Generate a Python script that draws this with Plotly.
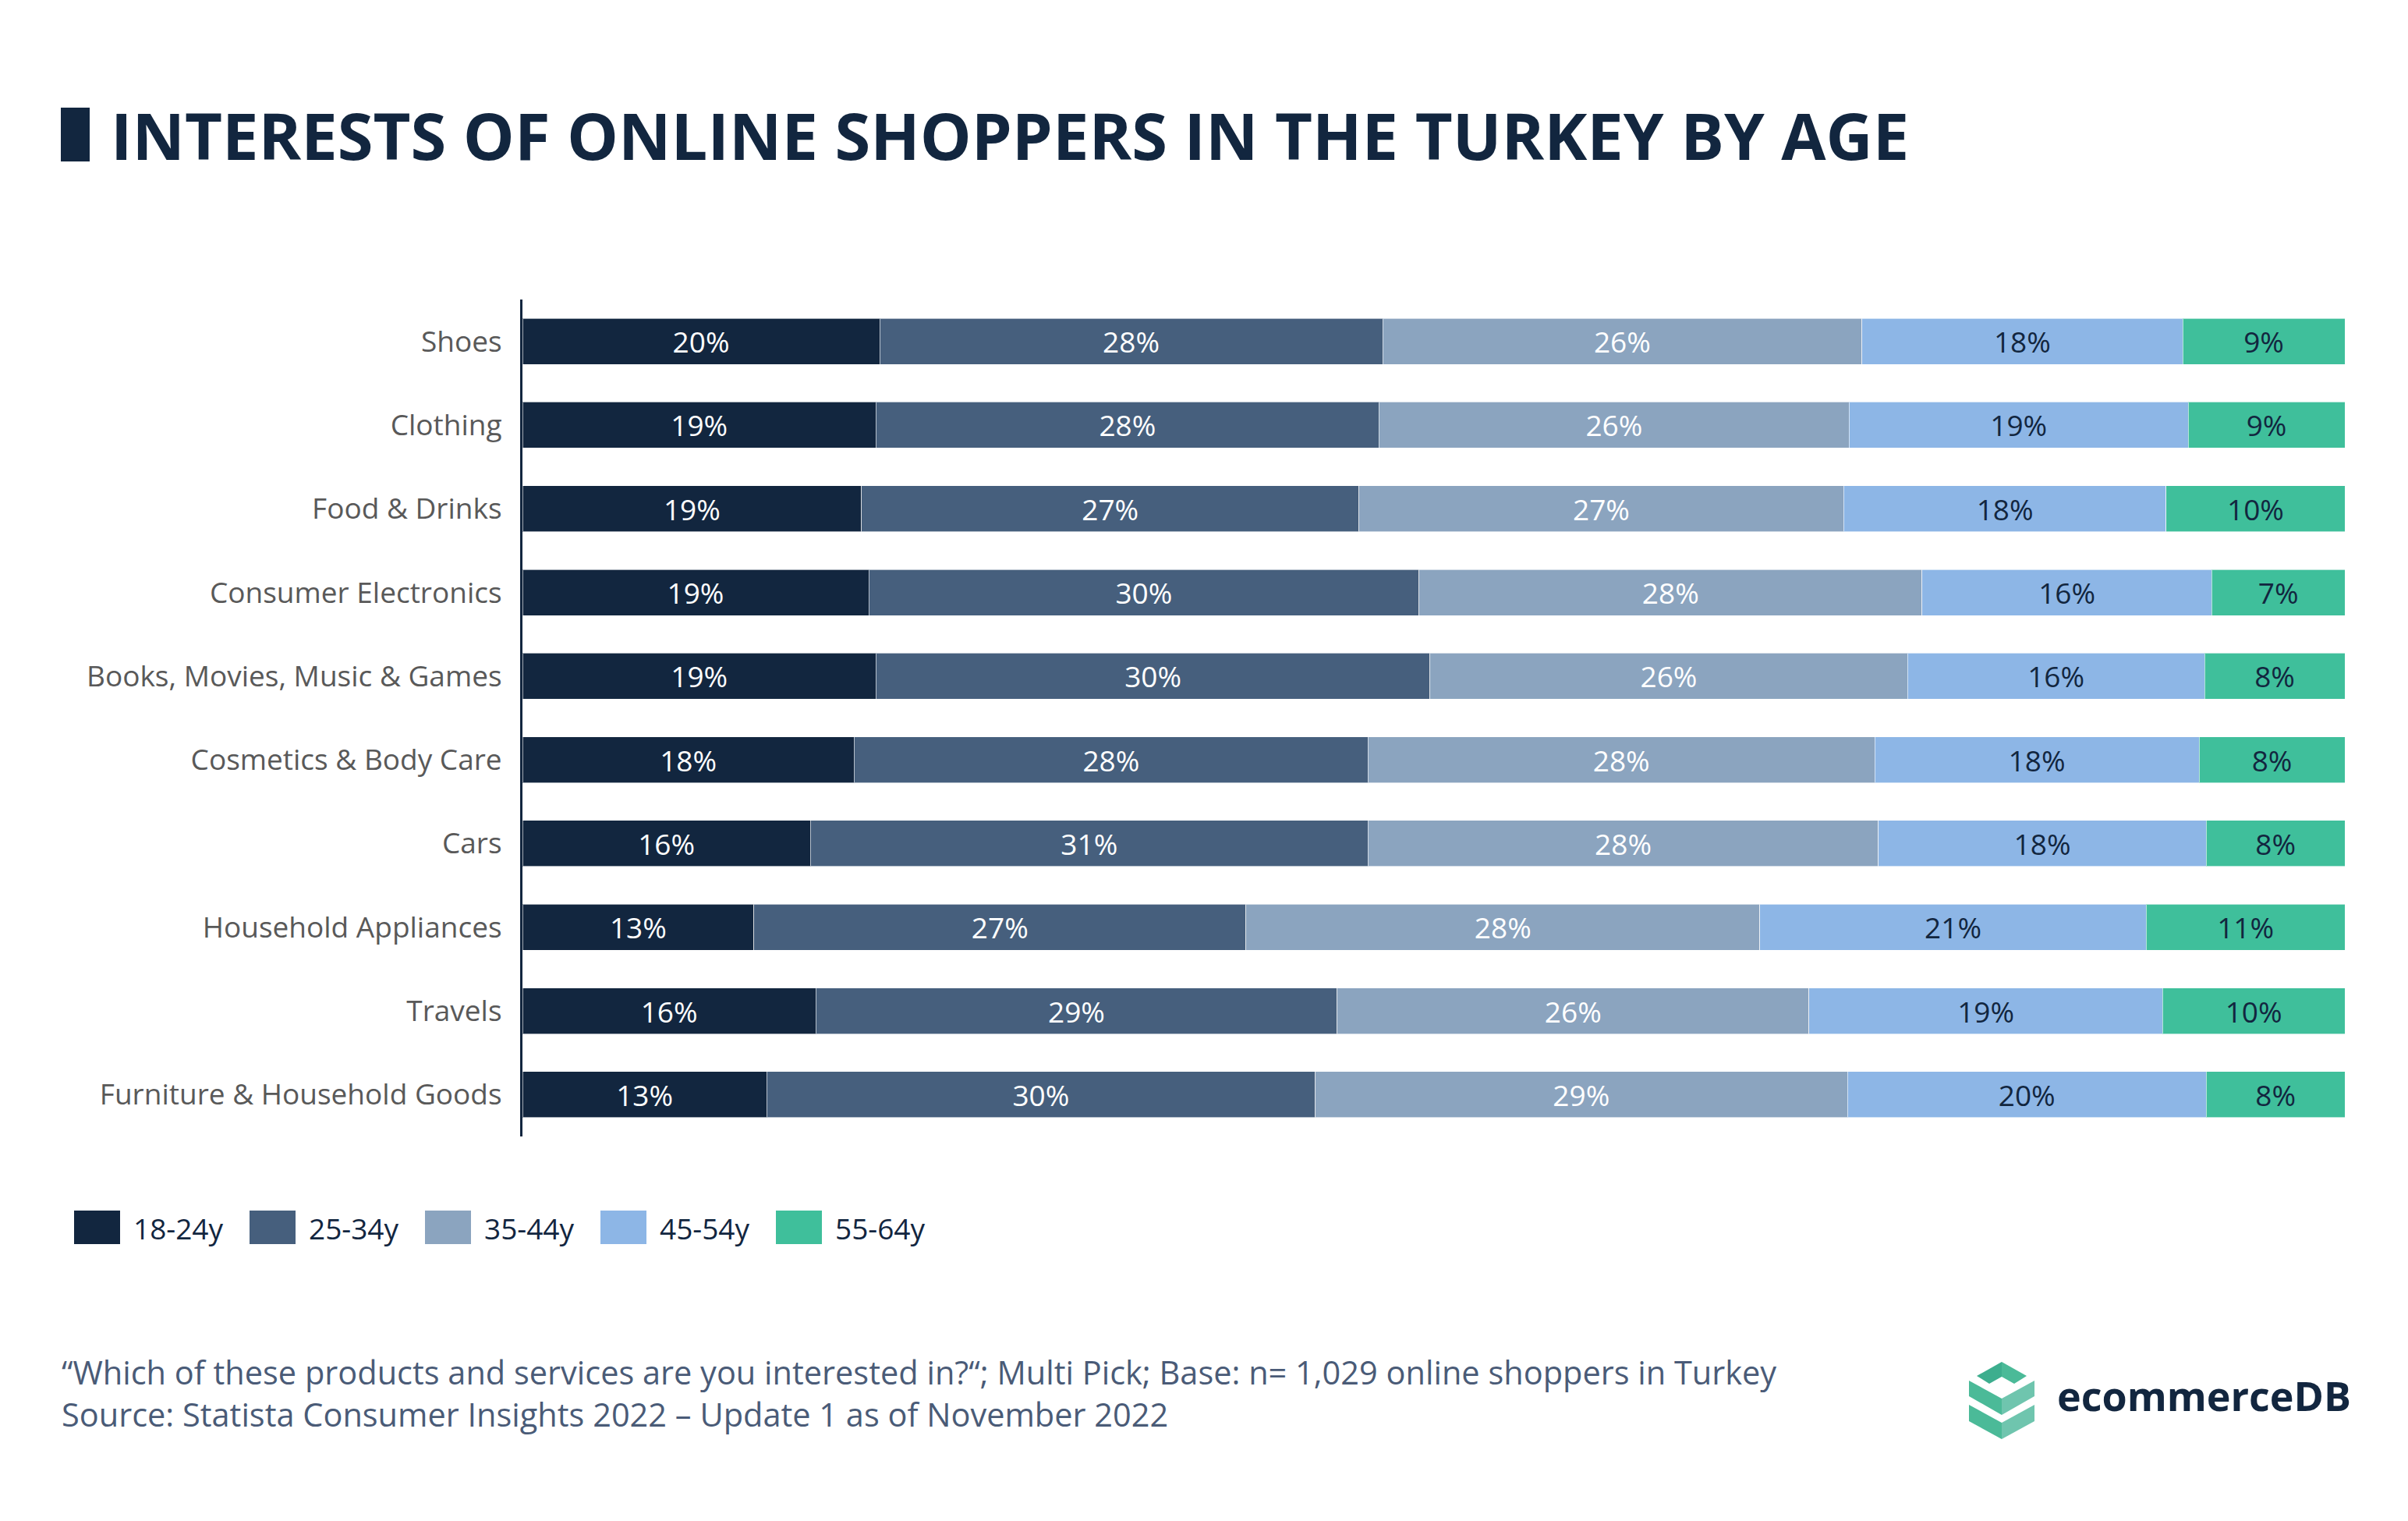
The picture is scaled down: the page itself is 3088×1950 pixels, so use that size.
import plotly.graph_objects as go

W, H = 3088, 1950
OFF = 8  # page body margin offset
L, R, T, B = 670 - OFF, 3007 - OFF, 384 - OFF, 1457 - OFF

categories = ["Shoes", "Clothing", "Food & Drinks", "Consumer Electronics",
              "Books, Movies, Music & Games", "Cosmetics & Body Care", "Cars",
              "Household Appliances", "Travels", "Furniture & Household Goods"]

age_groups = ["18-24y", "25-34y", "35-44y", "45-54y", "55-64y"]

v_18_24 = [19.6, 19.4, 18.6, 19.0, 19.4, 18.2, 15.8, 12.7, 16.1, 13.4]
v_25_34 = [27.6, 27.6, 27.3, 30.2, 30.4, 28.2, 30.6, 27.0, 28.6, 30.1]
v_35_44 = [26.3, 25.8, 26.6, 27.6, 26.2, 27.8, 28.0, 28.2, 25.9, 29.2]
v_45_54 = [17.6, 18.6, 17.7, 15.9, 16.3, 17.8, 18.0, 21.2, 19.4, 19.7]
v_55_64 = [8.9, 8.6, 9.8, 7.3, 7.7, 8.0, 7.6, 10.9, 10.0, 7.6]

series = [v_18_24, v_25_34, v_35_44, v_45_54, v_55_64]
colors = ["#12263F", "#465F7D", "#8BA4BF", "#8DB6E6", "#3FBF9B"]
text_colors = ["#FFFFFF", "#FFFFFF", "#FFFFFF", "#12263F", "#12263F"]

title_text = "INTERESTS OF ONLINE SHOPPERS IN THE TURKEY BY AGE"
footer_1 = "“Which of these products and services are you interested in?“; Multi Pick; Base: n= 1,029 online shoppers in Turkey"
footer_2 = "Source: Statista Consumer Insights 2022 – Update 1 as of November 2022"

FONT = "Open Sans"


def px(x):
    return (x - OFF - L) / (R - L)


def py(y):
    return (B - (y - OFF)) / (B - T)


fig = go.Figure()
for name, vals, col, tcol in zip(age_groups, series, colors, text_colors):
    fig.add_trace(go.Bar(
        y=categories, x=vals, name=name, orientation="h",
        marker=dict(color=col, line=dict(width=1, color="rgba(255,255,255,0.6)")),
        texttemplate="%{x:.0f}%", textposition="inside", insidetextanchor="middle",
        textangle=0, constraintext="none",
        textfont=dict(family=FONT, size=37, color=tcol),
        showlegend=False, hoverinfo="skip",
    ))

shapes = []
annotations = []

# title marker
shapes.append(dict(type="rect", xref="paper", yref="paper",
                   x0=px(78), x1=px(115), y0=py(207), y1=py(138),
                   fillcolor="#12263F", line=dict(width=0)))

# custom legend
for i, (name, col) in enumerate(zip(age_groups, colors)):
    x0 = 95 + i * 225
    shapes.append(dict(type="rect", xref="paper", yref="paper",
                       x0=px(x0), x1=px(x0 + 59), y0=py(1595), y1=py(1552),
                       fillcolor=col, line=dict(width=0)))
    annotations.append(dict(xref="paper", yref="paper", x=px(x0 + 74), y=py(1574),
                            text=name, showarrow=False, xanchor="left", yanchor="middle",
                            font=dict(family=FONT, size=37, color="#12263F")))

# footer (two lines in one text block)
annotations.append(dict(xref="paper", yref="paper", x=px(77), y=py(1786),
                        text=footer_1 + "<br>" + footer_2,
                        showarrow=False, xanchor="left", yanchor="middle", align="left",
                        font=dict(family=FONT, size=41.5, color="#4A5B77")))

# logo
annotations.append(dict(xref="paper", yref="paper", x=px(2636), y=py(1788), text="<b>ecommerceDB</b>",
                        showarrow=False, xanchor="left", yanchor="middle",
                        font=dict(family=FONT, size=52, color="#12263F")))


def poly(points, color):
    d = "M " + " L ".join(f"{px(a):.5f},{py(b):.5f}" for a, b in points) + " Z"
    return dict(type="path", xref="paper", yref="paper", path=d,
                fillcolor=color, line=dict(width=0))


cx = 2567
shapes.append(poly([(2535, 1764), (cx, 1746), (cx, 1765), (2551, 1774)], "#3DAE8E"))
shapes.append(poly([(cx, 1746), (2599, 1764), (2583, 1774), (cx, 1765)], "#4BBA98"))
shapes.append(poly([(2525, 1770), (cx, 1793), (cx, 1814), (2525, 1790)], "#4BBA98"))
shapes.append(poly([(cx, 1793), (2609, 1770), (2609, 1790), (cx, 1814)], "#6FC5AE"))
shapes.append(poly([(2525, 1801), (cx, 1824), (cx, 1845), (2525, 1822)], "#4BBA98"))
shapes.append(poly([(cx, 1824), (2609, 1801), (2609, 1822), (cx, 1845)], "#6FC5AE"))

fig.update_layout(
    width=W, height=H,
    margin=dict(l=L, r=W - R, t=T, b=H - B, pad=0),
    paper_bgcolor="white", plot_bgcolor="white",
    barmode="stack", bargap=0.45,
    title=dict(text="<b>" + title_text + "</b>", xref="container", yref="container",
               x=(142 - OFF) / W, xanchor="left", y=1 - (176 - OFF) / H, yanchor="middle",
               font=dict(family=FONT, size=83, color="#12263F")),
    xaxis=dict(range=[0, 100], visible=False, fixedrange=True),
    yaxis=dict(autorange="reversed", showgrid=False, zeroline=False,
               showline=True, linecolor="#12263F", linewidth=3,
               ticks="", ticklabelstandoff=16,
               tickfont=dict(family=FONT, size=37, color="#595959")),
    shapes=shapes, annotations=annotations,
    showlegend=False,
)

fig.write_html("out.html")
